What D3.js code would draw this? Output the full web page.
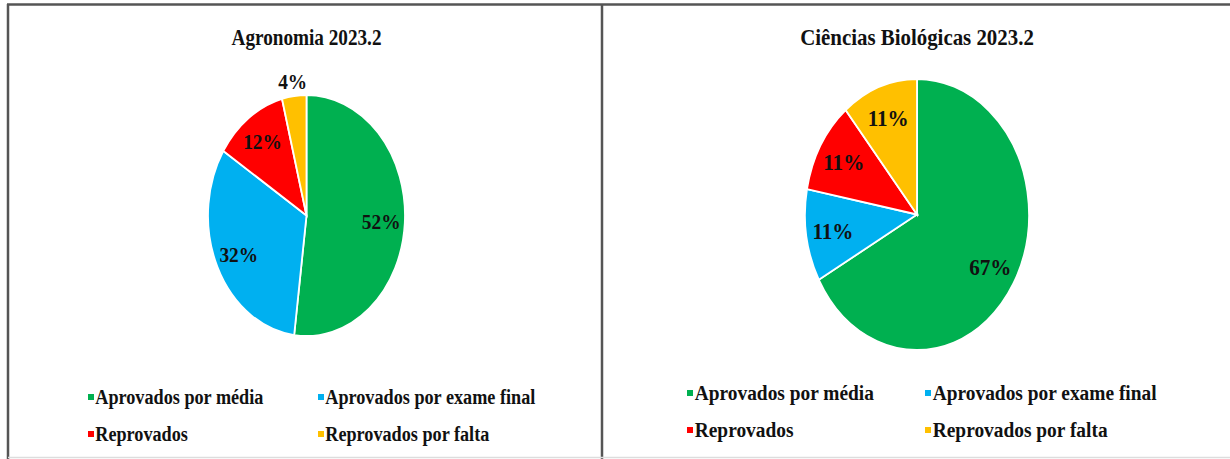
<!DOCTYPE html>
<html>
<head>
<meta charset="utf-8">
<script src="https://cdn.jsdelivr.net/npm/d3@7"></script>
<style>
  body { margin: 0; background: #fff; }
  svg text { font-family: "Liberation Serif", "DejaVu Serif", serif; font-weight: 700; }
</style>
</head>
<body>
<svg id="chart" width="1230" height="459"></svg>
<script>
const categories = ['Aprovados por média', 'Aprovados por exame final', 'Reprovados', 'Reprovados por falta'];
const colors = ['#00B050', '#00B0F0', '#FF0000', '#FFC000'];

const titles = ['Agronomia 2023.2', 'Ciências Biológicas 2023.2'];
const agronomiaValues = [52, 32, 12, 4];
const biologicasValues = [67, 11, 11, 11];

const svg = d3.select('#chart');

// frame
svg.append('rect').attr('x', 0).attr('y', 0).attr('width', 1230).attr('height', 459).attr('fill', '#fff');
const frame = svg.append('g').attr('stroke', '#555').attr('stroke-width', 2.5);
frame.append('line').attr('x1', 7).attr('x2', 1230).attr('y1', 4.5).attr('y2', 4.5);
frame.append('line').attr('x1', 8).attr('x2', 8).attr('y1', 4).attr('y2', 459);
frame.append('line').attr('x1', 602).attr('x2', 602).attr('y1', 4).attr('y2', 459);
svg.append('line').attr('x1', 8).attr('x2', 1230).attr('y1', 457.5).attr('y2', 457.5)
  .attr('stroke', '#ddd').attr('stroke-width', 1.5);

const panels = [
  { title: titles[0], values: agronomiaValues, cx: 306.5, cy: 215.5, rx: 98.5, ry: 120.5,
    titleScale: 0.8, labelSize: 22, legendScale: 0.91,
    legendX: [88, 318], legendY: [397, 434] },
  { title: titles[1], values: biologicasValues, cx: 917, cy: 214.5, rx: 112, ry: 135.5,
    titleScale: 0.87, labelSize: 24, legendScale: 0.97,
    legendX: [687, 925], legendY: [393, 430] }
];

const pie = d3.pie().sort(null).value(d => d);

panels.forEach(p => {
  const g = svg.append('g');

  g.append('text')
    .attr('transform', `translate(${p.cx},45) scale(${p.titleScale},1)`)
    .attr('text-anchor', 'middle')
    .attr('fill', '#111')
    .style('font-size', '24px')
    .text(p.title);

  const arc = d3.arc().innerRadius(0).outerRadius(p.rx);
  const arcs = pie(p.values);

  const pieG = g.append('g')
    .attr('transform', `translate(${p.cx},${p.cy}) scale(1,${p.ry / p.rx})`);

  pieG.selectAll('path')
    .data(arcs)
    .enter().append('path')
    .attr('d', arc)
    .attr('fill', (d, i) => colors[i])
    .attr('stroke', '#fff')
    .attr('stroke-width', 1.8)
    .attr('vector-effect', 'non-scaling-stroke');

  // labels: inside for large slices, just outside for very small ones
  g.selectAll('text.lbl')
    .data(arcs)
    .enter().append('text')
    .attr('class', 'lbl')
    .attr('text-anchor', 'middle')
    .attr('dy', '0.35em')
    .attr('fill', '#111')
    .style('font-size', p.labelSize + 'px')
    .attr('transform', d => {
      const a = (d.startAngle + d.endAngle) / 2;
      const k = (d.data < 5) ? 1.12 : 0.76;
      const x = p.cx + Math.sin(a) * p.rx * k;
      const y = p.cy - Math.cos(a) * p.ry * k;
      return `translate(${x},${y}) scale(0.88,1)`;
    })
    .text(d => d.data + '%');

  const leg = g.selectAll('g.leg')
    .data(categories)
    .enter().append('g')
    .attr('class', 'leg')
    .attr('transform', (d, i) => `translate(${p.legendX[i % 2]},${p.legendY[Math.floor(i / 2)]})`);

  leg.append('rect')
    .attr('x', 0).attr('y', -3).attr('width', 6).attr('height', 6)
    .attr('fill', (d, i) => colors[i]);

  leg.append('text')
    .attr('x', 8)
    .attr('dy', '0.33em')
    .attr('fill', '#111')
    .attr('transform', `scale(${p.legendScale},1)`)
    .style('font-size', '20px')
    .text(d => d);
});
</script>
</body>
</html>
